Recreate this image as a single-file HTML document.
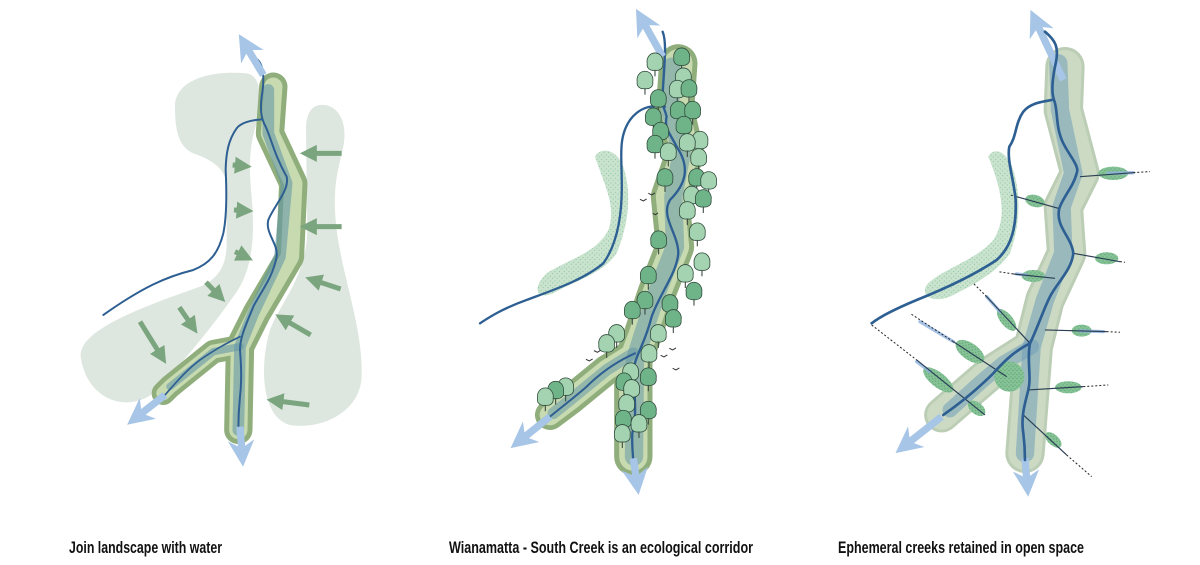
<!DOCTYPE html>
<html><head><meta charset="utf-8"><style>
html,body{margin:0;padding:0;background:#fff;}
svg{display:block}
text{font-family:"Liberation Sans Narrow","Liberation Sans",sans-serif;font-weight:bold;font-size:17px;fill:#111}
</style></head><body>
<svg width="1200" height="565" viewBox="0 0 1200 565" xmlns="http://www.w3.org/2000/svg">
<defs>
<pattern id="dots" width="14" height="14" patternUnits="userSpaceOnUse">
<rect width="14" height="14" fill="#c9e3cf"/>
<circle cx="3" cy="3" r="1.6" fill="#7fbf94"/><circle cx="10" cy="9" r="1.6" fill="#7fbf94"/>
</pattern>
<pattern id="dots2" width="12" height="12" patternUnits="userSpaceOnUse">
<rect width="12" height="12" fill="#86c397"/>
<circle cx="3" cy="3" r="1.8" fill="#5a9e70"/><circle cx="9" cy="8" r="1.8" fill="#5a9e70"/>
</pattern>
<marker id="ga" viewBox="0 0 10 10" refX="5" refY="5" markerWidth="3.4" markerHeight="3.4" orient="auto"><path d="M0,0 L10,5 L0,10 Z" fill="#7aa57e"/></marker>
<marker id="ba" viewBox="0 0 10 10" refX="3" refY="5" markerWidth="3.6" markerHeight="3.6" orient="auto"><path d="M0,0 L10,5 L0,10 L3,5 Z" fill="#a7c5e6"/></marker>
<g id="tree"><g transform="scale(1.3)"><line x1="0" y1="10" x2="0" y2="30" stroke="#3b4a40" stroke-width="2.5"/><path d="M0,-24 C14,-24 20,-10 18,0 C20,12 10,18 0,16 C-10,18 -20,12 -18,0 C-20,-10 -14,-24 0,-24 Z" fill="#6fb489" stroke="#2f4a3b" stroke-width="1.8"/></g></g>
<g id="tree2"><g transform="scale(1.3)"><line x1="0" y1="10" x2="0" y2="30" stroke="#3b4a40" stroke-width="2.5"/><path d="M0,-24 C14,-24 20,-10 18,0 C20,12 10,18 0,16 C-10,18 -20,12 -18,0 C-20,-10 -14,-24 0,-24 Z" fill="#a3d3b0" stroke="#2f4a3b" stroke-width="1.8"/></g></g>
</defs>

<!-- PANEL 1 -->
<g transform="translate(60,30) scale(0.3333)">
<path d="M345,230 C345,150 450,120 560,130 C600,135 610,200 590,280 C570,340 565,400 575,500 C585,620 580,720 520,800 C450,900 350,1020 280,1090 C200,1150 80,1110 62,980 C55,900 250,830 420,770 C480,745 500,700 500,640 L500,470 C500,420 460,390 400,370 C355,350 345,300 345,230 Z" fill="#dde7df"/>
<path d="M780,225 C830,220 865,270 850,350 C835,420 815,470 830,600 C850,750 910,900 905,1040 C900,1150 780,1200 690,1185 C600,1160 600,1000 630,900 C660,820 740,740 742,600 L738,300 C738,250 755,228 780,225 Z" fill="#dde7df"/>
<g fill="none" stroke-linejoin="round" stroke-linecap="round">
<polyline points="640,170 630,310 700,460 690,680 590,850 540,950 535,1200" stroke="#8fae7c" stroke-width="85"/>
<polyline points="540,950 460,965 330,1070 310,1090" stroke="#8fae7c" stroke-width="70"/>
<polyline points="640,170 630,310 700,460 690,680 590,850 540,950 535,1200" stroke="#c8dab0" stroke-width="55"/>
<polyline points="540,950 460,965 330,1070 310,1090" stroke="#c8dab0" stroke-width="42"/>
<polyline points="625,180 625,310 680,460 660,680 580,850 540,950 535,1200" stroke="#5f93a6" stroke-opacity="0.55" stroke-width="35"/>
<polyline points="540,950 460,965 330,1070" stroke="#5f93a6" stroke-opacity="0.55" stroke-width="22"/>
<path d="M588,85 C610,100 615,140 605,200 C600,240 605,265 612,280 C630,310 640,370 680,440 C690,480 640,530 625,570 C615,610 655,640 650,680 C640,740 600,790 580,830 C560,880 540,920 540,960 C545,1020 545,1060 540,1100 C535,1150 535,1180 535,1200" stroke="#2e5f92" stroke-width="6"/>
<path d="M605,268 C580,270 545,275 530,295 C505,330 498,370 497,420 C500,480 500,560 490,610 C475,670 450,700 400,720 C320,740 250,770 130,855" stroke="#2e5f92" stroke-width="6"/>
<path d="M540,920 C500,940 470,955 420,990 C380,1020 350,1055 315,1095" stroke="#2e5f92" stroke-width="5"/>
</g>
<g stroke="#a7c5e6" stroke-width="22" fill="none">
<line x1="610" y1="135" x2="565" y2="60" marker-end="url(#ba)"/>
<line x1="540" y1="1190" x2="545" y2="1255" marker-end="url(#ba)"/>
<line x1="315" y1="1095" x2="245" y2="1150" marker-end="url(#ba)"/>
</g>
<g stroke="#7aa57e" stroke-width="15" fill="none">
<line x1="518" y1="405" x2="550" y2="408" marker-end="url(#ga)"/>
<line x1="522" y1="540" x2="555" y2="542" marker-end="url(#ga)"/>
<line x1="525" y1="665" x2="556" y2="680" marker-end="url(#ga)"/>
<line x1="438" y1="757" x2="478" y2="798" marker-end="url(#ga)"/>
<line x1="358" y1="832" x2="398" y2="890" marker-end="url(#ga)"/>
<line x1="240" y1="875" x2="305" y2="980" marker-end="url(#ga)"/>
<line x1="845" y1="370" x2="745" y2="370" marker-end="url(#ga)"/>
<line x1="845" y1="590" x2="745" y2="590" marker-end="url(#ga)"/>
<line x1="842" y1="777" x2="760" y2="750" marker-end="url(#ga)"/>
<line x1="752" y1="915" x2="668" y2="866" marker-end="url(#ga)"/>
<line x1="748" y1="1125" x2="645" y2="1112" marker-end="url(#ga)"/>
</g>
</g>

<!-- PANEL 2 -->
<g transform="translate(470,0) scale(0.3333)">
<path d="M375,470 C390,440 440,445 460,500 C480,560 485,650 440,760 C400,820 320,840 250,880 C205,900 180,870 230,820 C290,780 380,760 415,690 C440,620 405,560 375,470 Z" fill="url(#dots)"/>
<g fill="none" stroke-linejoin="round" stroke-linecap="round">
<polyline points="625,190 615,330 645,460 600,590 615,740 560,880 520,1000 490,1080 490,1370" stroke="#8fae7c" stroke-width="115"/>
<polyline points="490,1060 410,1110 300,1200 240,1245" stroke="#8fae7c" stroke-width="90"/>
<polyline points="625,190 615,330 645,460 600,590 615,740 560,880 520,1000 490,1080 490,1370" stroke="#c8dab0" stroke-width="85"/>
<polyline points="490,1060 410,1110 300,1200 240,1245" stroke="#c8dab0" stroke-width="62"/>
<polyline points="605,200 600,330 635,460 610,590 615,740 560,880 520,1000 495,1080 492,1370" stroke="#5f93a6" stroke-opacity="0.5" stroke-width="55"/>
<polyline points="490,1060 410,1110 300,1200 250,1240" stroke="#5f93a6" stroke-opacity="0.5" stroke-width="35"/>
<path d="M578,95 C592,130 582,200 577,300 C576,315 585,330 590,350 C582,385 600,400 620,440 C660,500 650,550 600,600 C570,650 625,700 625,760 C620,820 570,880 545,950 C525,1030 500,1060 492,1100 C488,1160 505,1230 487,1300 C485,1340 490,1370 490,1390" stroke="#2e5f92" stroke-width="7"/>
<path d="M585,320 C545,315 510,320 480,360 C445,410 455,470 455,530 C458,620 450,720 400,790 C340,840 250,870 170,900 C100,925 60,950 30,970" stroke="#2e5f92" stroke-width="7"/>
<path d="M495,1060 C450,1080 400,1110 350,1160 C310,1195 270,1225 240,1250" stroke="#2e5f92" stroke-width="6"/>
</g>
<g stroke="#a7c5e6" stroke-width="22" fill="none">
<line x1="578" y1="170" x2="525" y2="75" marker-end="url(#ba)"/>
<line x1="490" y1="1375" x2="498" y2="1430" marker-end="url(#ba)"/>
<line x1="240" y1="1250" x2="165" y2="1310" marker-end="url(#ba)"/>
</g>
<g>
<use href="#tree2" x="555" y="190"/><use href="#tree" x="635" y="175"/><use href="#tree2" x="525" y="245"/>
<use href="#tree2" x="640" y="235"/><use href="#tree2" x="622" y="272"/><use href="#tree" x="657" y="270"/>
<use href="#tree" x="565" y="300"/><use href="#tree" x="625" y="335"/><use href="#tree" x="668" y="335"/>
<use href="#tree" x="550" y="355"/><use href="#tree" x="642" y="380"/><use href="#tree" x="572" y="398"/>
<use href="#tree" x="555" y="437"/><use href="#tree2" x="595" y="460"/><use href="#tree2" x="690" y="425"/>
<use href="#tree2" x="652" y="432"/><use href="#tree2" x="686" y="477"/><use href="#tree" x="585" y="537"/>
<use href="#tree" x="680" y="537"/><use href="#tree2" x="716" y="546"/><use href="#tree2" x="665" y="590"/>
<use href="#tree" x="700" y="600"/><use href="#tree2" x="652" y="636"/><use href="#tree2" x="682" y="700"/>
<use href="#tree" x="566" y="724"/><use href="#tree2" x="696" y="790"/><use href="#tree2" x="646" y="825"/>
<use href="#tree" x="535" y="830"/><use href="#tree" x="672" y="878"/><use href="#tree" x="525" y="905"/>
<use href="#tree" x="487" y="935"/><use href="#tree" x="600" y="915"/><use href="#tree" x="610" y="960"/>
<use href="#tree2" x="440" y="1005"/><use href="#tree2" x="410" y="1035"/><use href="#tree2" x="565" y="1005"/>
<use href="#tree2" x="537" y="1065"/><use href="#tree2" x="482" y="1120"/><use href="#tree" x="462" y="1150"/>
<use href="#tree" x="535" y="1135"/><use href="#tree2" x="485" y="1170"/><use href="#tree2" x="470" y="1215"/>
<use href="#tree" x="535" y="1235"/><use href="#tree" x="460" y="1262"/><use href="#tree2" x="507" y="1275"/>
<use href="#tree2" x="457" y="1305"/><use href="#tree2" x="287" y="1165"/><use href="#tree" x="257" y="1175"/>
<use href="#tree2" x="226" y="1195"/>
</g>
<g stroke="#333" stroke-width="3" fill="none">
<path d="M510,598 l10,5 l10,-6"/><path d="M535,580 l10,5 l10,-6"/><path d="M548,640 l8,4 l8,-5"/>
<path d="M372,1052 l10,5 l10,-6"/><path d="M348,1078 l10,5 l10,-6"/><path d="M598,1045 l10,5 l10,-6"/>
<path d="M572,1066 l10,5 l10,-6"/><path d="M608,1105 l10,5 l10,-6"/>
</g>
</g>

<!-- PANEL 3 -->
<g transform="translate(850,0) scale(0.3333)">
<path d="M415,470 C430,440 470,450 490,510 C510,580 515,660 480,760 C440,820 360,860 300,890 C250,910 210,890 230,855 C270,810 380,780 430,720 C470,660 460,580 415,470 Z" fill="url(#dots)"/>
<g fill="none" stroke-linejoin="round" stroke-linecap="round">
<polyline points="645,200 640,330 690,520 640,620 650,760 585,900 550,1040 525,1360" stroke="#bccdb5" stroke-width="118"/>
<polyline points="545,1040 420,1120 275,1245" stroke="#bccdb5" stroke-width="105"/>
<polyline points="645,200 640,330 690,520 640,620 650,760 585,900 550,1040 525,1360" stroke="#ccdac4" stroke-width="100"/>
<polyline points="545,1040 420,1120 275,1245" stroke="#ccdac4" stroke-width="88"/>
<polyline points="625,190 630,330 670,520 635,620 640,760 585,900 545,1040 525,1360" stroke="#6f9fb8" stroke-opacity="0.55" stroke-width="55"/>
<polyline points="545,1040 460,1090 400,1140 300,1230" stroke="#6f9fb8" stroke-opacity="0.55" stroke-width="45"/>
</g>
<g stroke="#a7c5e6" stroke-width="22" fill="none">
<line x1="640" y1="240" x2="565" y2="80" marker-end="url(#ba)"/>
<line x1="525" y1="1375" x2="530" y2="1435" marker-end="url(#ba)"/>
<line x1="275" y1="1250" x2="180" y2="1325" marker-end="url(#ba)"/>
</g>
<g fill="url(#dots2)" stroke="none">
<ellipse cx="790" cy="520" rx="45" ry="20"/>
<ellipse cx="555" cy="603" rx="30" ry="18" transform="rotate(15 555 603)"/>
<ellipse cx="770" cy="775" rx="35" ry="18"/>
<ellipse cx="550" cy="828" rx="35" ry="18"/>
<ellipse cx="695" cy="992" rx="30" ry="18"/>
<ellipse cx="470" cy="960" rx="40" ry="18" transform="rotate(50 470 960)"/>
<ellipse cx="360" cy="1055" rx="50" ry="25" transform="rotate(35 360 1055)"/>
<circle cx="478" cy="1130" r="45"/>
<ellipse cx="265" cy="1140" rx="55" ry="22" transform="rotate(38 265 1140)"/>
<ellipse cx="380" cy="1225" rx="30" ry="18" transform="rotate(38 380 1225)"/>
<ellipse cx="655" cy="1162" rx="40" ry="18"/>
<ellipse cx="610" cy="1320" rx="30" ry="16" transform="rotate(42 610 1320)"/>
</g>
<g stroke="#8fb3e0" stroke-width="10" stroke-linecap="round" opacity="0.8">
<line x1="410" y1="890" x2="450" y2="935"/><line x1="210" y1="965" x2="310" y2="1025"/>
<line x1="200" y1="1085" x2="240" y2="1115"/><line x1="775" y1="520" x2="850" y2="518"/>
<line x1="500" y1="822" x2="530" y2="825"/><line x1="690" y1="993" x2="760" y2="995"/>
</g>
<g stroke="#2b3f55" stroke-width="3.5" fill="none">
<line x1="690" y1="530" x2="850" y2="518"/><line x1="625" y1="625" x2="500" y2="590"/>
<line x1="670" y1="760" x2="810" y2="785"/><line x1="615" y1="835" x2="490" y2="822"/>
<line x1="585" y1="990" x2="770" y2="995"/><line x1="540" y1="1030" x2="410" y2="890"/>
<line x1="470" y1="1130" x2="310" y2="1025"/><line x1="200" y1="1080" x2="405" y2="1245"/>
<line x1="535" y1="1170" x2="700" y2="1160"/><line x1="520" y1="1245" x2="650" y2="1365"/>
</g>
<g stroke="#222" stroke-width="3" stroke-dasharray="6,6" fill="none">
<line x1="850" y1="518" x2="900" y2="515"/><line x1="500" y1="590" x2="480" y2="585"/>
<line x1="810" y1="785" x2="825" y2="787"/><line x1="490" y1="822" x2="445" y2="815"/>
<line x1="770" y1="995" x2="810" y2="997"/><line x1="410" y1="890" x2="370" y2="850"/>
<line x1="310" y1="1025" x2="180" y2="940"/><line x1="65" y1="975" x2="200" y2="1080"/>
<line x1="700" y1="1160" x2="775" y2="1155"/><line x1="650" y1="1365" x2="725" y2="1430"/>
</g>
<g fill="none" stroke="#2e5f92" stroke-width="8" stroke-linecap="round" stroke-linejoin="round">
<path d="M585,95 C615,120 630,140 615,200 C605,250 605,280 612,300 C625,330 615,380 640,430 C660,470 690,500 680,520 C670,560 640,590 628,625 C615,680 665,710 670,760 C665,810 620,850 600,890 C580,930 560,990 540,1030 C530,1080 545,1130 535,1170 C525,1210 512,1250 520,1300 C525,1340 525,1370 525,1380"/>
<path d="M605,300 C575,305 540,310 520,335 C495,370 500,410 478,440 C470,480 492,540 497,600 C500,680 485,740 440,780 C380,820 300,860 200,900 C140,925 90,950 65,970"/>
<path d="M540,1030 C500,1050 470,1075 430,1120 C380,1170 330,1210 280,1245"/>
</g>
</g>

<text x="69" y="553" textLength="153" lengthAdjust="spacingAndGlyphs">Join landscape with water</text>
<text x="449" y="553" textLength="304" lengthAdjust="spacingAndGlyphs">Wianamatta - South Creek is an ecological corridor</text>
<text x="838" y="553" textLength="246" lengthAdjust="spacingAndGlyphs">Ephemeral creeks retained in open space</text>
</svg>
</body></html>
